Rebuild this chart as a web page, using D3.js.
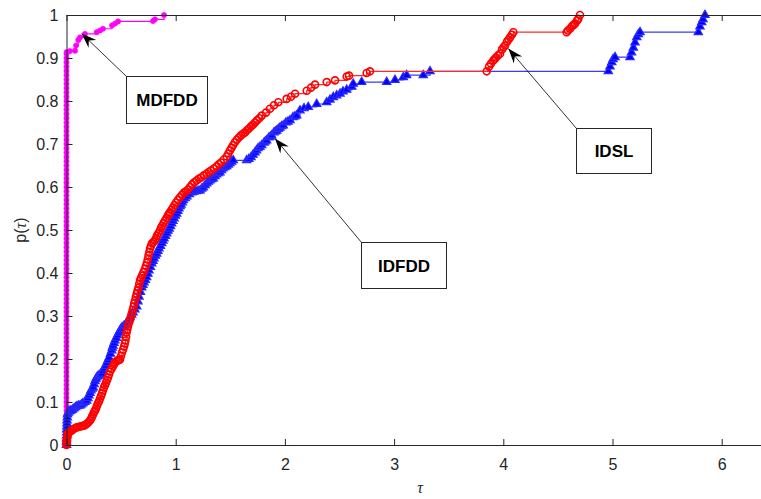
<!DOCTYPE html>
<html><head><meta charset="utf-8">
<script src="https://cdn.jsdelivr.net/npm/d3@7/dist/d3.min.js"></script>
<style>
body{margin:0;background:#fff;}
svg{display:block;font-family:"Liberation Sans",Arial,Helvetica,sans-serif;}
</style>
</head><body>
<svg id="chart" width="761" height="499"></svg>
<script>
// ---------------- data ----------------
const xTickValues = [0,1,2,3,4,5,6];
const xTickLabels = ["0","1","2","3","4","5","6"];
const yTickValues = [0,0.1,0.2,0.3,0.4,0.5,0.6,0.7,0.8,0.9,1];
const yTickLabels = ["0","0.1","0.2","0.3","0.4","0.5","0.6","0.7","0.8","0.9","1"];
const seriesNames = ["MDFDD","IDFDD","IDSL"];

const mdfddTau = [0,0,0,0,0,0,0,0,0,0,0,0,0,0,0,0,0,0,0,0,0,0,0,0,0,0,0,0,0,0,0,0,0,0,0,0,0,0,0,0,0,0,0,0,0,0,0,0,0,0,0,0,0,0,0,0,0,0,0,0,0,0,0,0,0,0,0,0,0,0,0,0,0,0,0,0,0,0,0,0,0,0,0,0,0,0,0,0,0,0,0,0,
  0.002,0.030,0.078,0.087,0.108,0.124,0.169,0.277,0.307,0.334,0.417,0.444,0.472,0.792,0.810,0.893];
const mdfddP = [0,0.01,0.02,0.03,0.04,0.05,0.06,0.07,0.08,0.09,0.10,0.11,0.12,0.13,0.14,0.15,0.16,0.17,0.18,0.19,0.20,0.21,0.22,0.23,0.24,0.25,0.26,0.27,0.28,0.29,0.30,0.31,0.32,0.33,0.34,0.35,0.36,0.37,0.38,0.39,0.40,0.41,0.42,0.43,0.44,0.45,0.46,0.47,0.48,0.49,0.50,0.51,0.52,0.53,0.54,0.55,0.56,0.57,0.58,0.59,0.60,0.61,0.62,0.63,0.64,0.65,0.66,0.67,0.68,0.69,0.70,0.71,0.72,0.73,0.74,0.75,0.76,0.77,0.78,0.79,0.80,0.81,0.82,0.83,0.84,0.85,0.86,0.87,0.88,0.89,0.90,0.91,
  0.914,0.916,0.917,0.929,0.942,0.948,0.956,0.960,0.964,0.968,0.976,0.980,0.985,0.986,0.990,1.000];

const idfddTau = [0,0,0.001,0.001,0.002,0.002,0.003,0.004,0.005,0.007,0.009,0.016,0.023,0.032,0.041,0.055,0.069,0.082,0.096,0.110,
  0.124,0.138,0.151,0.168,0.185,0.196,0.206,0.215,0.224,0.235,0.245,0.253,0.261,0.269,0.277,0.288,0.298,0.310,0.322,0.333,
  0.343,0.356,0.368,0.379,0.389,0.402,0.414,0.420,0.426,0.435,0.444,0.456,0.467,0.479,0.490,0.499,0.508,0.522,0.536,0.548,
  0.559,0.571,0.582,0.596,0.609,0.626,0.643,0.654,0.664,0.677,0.689,0.700,0.710,0.722,0.734,0.745,0.755,0.768,0.780,0.791,
  0.801,0.814,0.826,0.837,0.847,0.860,0.872,0.883,0.893,0.906,0.918,0.929,0.940,0.952,0.963,0.974,0.985,0.997,1.009,1.020,
  1.030,1.040,1.049,1.060,1.070,1.087,1.103,1.125,1.147,1.166,1.186,1.205,1.223,1.238,1.253,1.269,1.284,1.299,1.314,1.329,
  1.344,1.360,1.375,1.390,1.405,1.419,1.433,1.450,1.467,1.482,1.497,1.512,1.527,1.650,1.670,1.690,1.708,1.726,1.740,1.754,
  1.771,1.788,1.809,1.821,1.833,1.854,1.867,1.879,1.900,1.913,1.925,1.940,1.955,1.970,1.985,2.010,2.028,2.047,2.074,2.091,
  2.108,2.138,2.175,2.214,2.291,2.383,2.413,2.443,2.474,2.505,2.532,2.566,2.612,2.626,2.703,2.932,3.008,
  3.084,3.115,3.267,3.329,4.962,4.977,4.993,5.005,5.023,5.160,5.174,5.191,5.206,5.222,5.237,5.252,5.786,5.801,5.817,5.829,5.847];
const idfddP = [0,0.008,0.015,0.022,0.029,0.036,0.043,0.050,0.057,0.064,0.071,0.075,0.078,0.079,0.080,0.082,0.085,0.088,0.090,0.091,
  0.092,0.094,0.097,0.100,0.103,0.109,0.115,0.121,0.127,0.131,0.134,0.141,0.148,0.153,0.157,0.160,0.162,0.164,0.166,0.172,
  0.178,0.184,0.190,0.197,0.203,0.212,0.220,0.226,0.231,0.237,0.243,0.249,0.255,0.261,0.266,0.270,0.273,0.276,0.278,0.283,
  0.287,0.292,0.297,0.303,0.308,0.315,0.322,0.334,0.345,0.356,0.366,0.372,0.378,0.384,0.390,0.398,0.406,0.414,0.422,0.428,
  0.434,0.440,0.445,0.451,0.457,0.463,0.469,0.475,0.480,0.486,0.492,0.498,0.503,0.509,0.515,0.521,0.527,0.533,0.538,0.544,
  0.550,0.555,0.559,0.564,0.569,0.574,0.578,0.583,0.587,0.589,0.590,0.591,0.592,0.596,0.599,0.604,0.608,0.612,0.615,0.618,
  0.620,0.625,0.629,0.632,0.634,0.639,0.643,0.646,0.648,0.652,0.655,0.659,0.662,0.662,0.665,0.669,0.675,0.680,0.685,0.690,
  0.693,0.697,0.703,0.706,0.708,0.715,0.717,0.720,0.727,0.729,0.731,0.735,0.738,0.741,0.743,0.750,0.752,0.755,0.762,0.764,
  0.766,0.778,0.783,0.786,0.793,0.797,0.803,0.809,0.813,0.817,0.822,0.826,0.833,0.840,0.844,0.844,0.849,
  0.855,0.860,0.860,0.869,0.869,0.880,0.890,0.897,0.902,0.902,0.913,0.924,0.936,0.948,0.955,0.960,0.960,0.973,0.983,0.990,1.000];

const idslTau = [0,0,0.002,0.003,0.005,0.007,0.009,0.012,0.014,0.022,0.032,0.045,0.060,0.076,0.093,0.108,0.124,0.142,0.160,0.175,
  0.188,0.202,0.215,0.225,0.234,0.243,0.252,0.261,0.270,0.279,0.288,0.298,0.307,0.316,0.325,0.334,0.343,0.352,0.362,0.371,
  0.380,0.389,0.398,0.412,0.426,0.435,0.444,0.458,0.472,0.481,0.490,0.499,0.508,0.518,0.527,0.534,0.540,0.546,0.551,0.557,
  0.563,0.572,0.582,0.590,0.597,0.606,0.614,0.620,0.627,0.635,0.643,0.651,0.659,0.666,0.673,0.682,0.691,0.705,0.719,0.728,
  0.737,0.744,0.751,0.758,0.765,0.774,0.783,0.797,0.810,0.820,0.829,0.843,0.856,0.866,0.875,0.889,0.902,0.916,0.929,0.939,
  0.948,0.962,0.975,0.989,1.003,1.021,1.039,1.058,1.076,1.095,1.113,1.131,1.149,1.170,1.192,1.212,1.232,1.258,1.284,1.303,
  1.323,1.349,1.375,1.395,1.415,1.441,1.467,1.482,1.497,1.511,1.525,1.542,1.559,1.578,1.598,1.617,1.635,1.653,1.671,1.690,
  1.708,1.726,1.744,1.766,1.788,1.827,1.863,1.900,1.940,2.016,2.056,2.093,
  2.200,2.239,2.276,2.383,2.459,2.566,2.587,2.749,2.779,3.848,3.869,3.887,3.908,3.920,3.933,3.952,3.970,3.988,4.002,4.016,4.034,4.048,4.062,4.078,4.092,
  4.580,4.592,4.611,4.629,4.643,4.657,4.675,4.687,4.702];
const idslP = [0,0.004,0.008,0.012,0.015,0.019,0.022,0.025,0.027,0.029,0.031,0.033,0.036,0.039,0.041,0.042,0.043,0.044,0.045,0.047,
  0.050,0.053,0.057,0.061,0.066,0.071,0.076,0.080,0.085,0.091,0.097,0.102,0.108,0.114,0.120,0.127,0.134,0.139,0.145,0.151,
  0.157,0.164,0.171,0.177,0.183,0.188,0.192,0.195,0.197,0.198,0.199,0.207,0.215,0.222,0.229,0.236,0.243,0.252,0.262,0.269,
  0.276,0.284,0.292,0.299,0.306,0.314,0.322,0.329,0.336,0.344,0.352,0.359,0.366,0.375,0.383,0.388,0.394,0.402,0.410,0.417,
  0.424,0.432,0.441,0.449,0.457,0.463,0.469,0.472,0.476,0.481,0.487,0.493,0.499,0.505,0.510,0.516,0.522,0.528,0.534,0.538,
  0.541,0.547,0.552,0.558,0.564,0.570,0.576,0.582,0.587,0.590,0.594,0.600,0.606,0.611,0.615,0.619,0.622,0.627,0.631,0.635,
  0.638,0.643,0.648,0.653,0.657,0.664,0.671,0.678,0.685,0.691,0.697,0.704,0.710,0.715,0.720,0.724,0.727,0.732,0.736,0.741,
  0.745,0.750,0.755,0.760,0.766,0.773,0.782,0.790,0.797,0.805,0.810,0.817,
  0.824,0.831,0.838,0.844,0.848,0.857,0.859,0.865,0.869,0.869,0.880,0.887,0.894,0.897,0.901,0.906,0.910,0.920,0.925,0.929,0.938,0.943,0.948,0.954,0.960,
  0.960,0.964,0.968,0.974,0.977,0.980,0.987,0.991,1.000];

// annotation arrow tips (data coords) and labels
const annLabels = ["MDFDD","IDFDD","IDSL"];
const annTipTau = [0.138, 1.909, 4.046];
const annTipP   = [0.957, 0.713, 0.922];

// ---------------- drawing ----------------
const svg = d3.select("#chart");
const W = 761, H = 499;
const x = d3.scaleLinear().domain([0, 6.4]).range([66.5, 66.5 + 6.4*109.2]);
const y = d3.scaleLinear().domain([0, 1]).range([445, 15]);
const axisColor = "#262626";

svg.append("rect").attr("width",W).attr("height",H).attr("fill","#fff");

const zip = (a,b) => a.map((v,i)=>[v,b[i]]);
const line = d3.line().x(d=>x(d[0])).y(d=>y(d[1])).curve(d3.curveStepAfter);

const plot = svg.append("g");

// MDFDD (magenta)
const mData = zip(mdfddTau, mdfddP);
plot.append("path").datum(mData).attr("d", line).attr("fill","none")
  .attr("stroke","#ff00ff").attr("stroke-width",1.2);
plot.append("g").selectAll("circle").data(mData).join("circle")
  .attr("cx",d=>x(d[0])).attr("cy",d=>y(d[1])).attr("r",2.6)
  .attr("fill","#ff00ff").attr("stroke","#ff00ff").attr("stroke-width",0.6);

// IDFDD (blue triangles)
const bData = zip(idfddTau, idfddP);
plot.append("path").datum(bData).attr("d", line).attr("fill","none")
  .attr("stroke","#3a3aff").attr("stroke-width",1.2);
const tri = d3.symbol().type(d3.symbolTriangle).size(30);
plot.append("g").selectAll("path").data(bData).join("path")
  .attr("d", tri).attr("transform", d=>`translate(${x(d[0])},${y(d[1])})`)
  .attr("fill","#0000ff").attr("stroke","#2a2aff").attr("stroke-width",1.2);

// IDSL (red circles)
const rData = zip(idslTau, idslP);
plot.append("path").datum(rData).attr("d", line).attr("fill","none")
  .attr("stroke","#ff2a2a").attr("stroke-width",1.2);
plot.append("g").selectAll("circle").data(rData).join("circle")
  .attr("cx",d=>x(d[0])).attr("cy",d=>y(d[1])).attr("r",3.5)
  .attr("fill","none").attr("stroke","#ff0000").attr("stroke-width",1.6);

// axes
const gBottom = svg.append("g").attr("transform",`translate(0,${y(0)})`)
  .call(d3.axisBottom(x).tickValues(xTickValues).tickFormat((d,i)=>xTickLabels[i]).tickSizeInner(-6).tickSizeOuter(0).tickPadding(14));
const gTop = svg.append("g").attr("transform",`translate(0,${y(1)})`)
  .call(d3.axisTop(x).tickValues(xTickValues).tickFormat("").tickSizeInner(-6).tickSizeOuter(0));
const gLeft = svg.append("g").attr("transform",`translate(${x(0)},0)`)
  .call(d3.axisLeft(y).tickValues(yTickValues).tickFormat((d,i)=>yTickLabels[i]).tickSizeInner(-6).tickSizeOuter(0).tickPadding(8));
[gBottom, gTop, gLeft].forEach(g=>{
  g.selectAll(".domain").attr("stroke",axisColor).attr("stroke-width",1);
  g.selectAll(".tick line").attr("stroke",axisColor).attr("stroke-width",1);
  g.selectAll(".tick text").attr("fill",axisColor).attr("font-size",16)
    .attr("font-family","'Liberation Sans',Arial,sans-serif");
});

// axis labels
const yl = svg.append("text").attr("transform","translate(26,230) rotate(-90)")
  .attr("text-anchor","middle").attr("font-size",16).attr("fill",axisColor);
yl.append("tspan").text("p(");
yl.append("tspan").attr("font-style","italic").attr("font-family","'Liberation Serif','DejaVu Serif',serif").text("τ");
yl.append("tspan").text(")");
svg.append("text").attr("x",420).attr("y",493).attr("text-anchor","middle")
  .attr("font-size",16).attr("font-style","italic").attr("fill",axisColor)
  .attr("font-family","'Liberation Serif','DejaVu Serif',serif").text("τ");

// annotations (box layout in pixels)
const annBoxes = [
  {x0:126.5, y0:76.5, w:81, h:47},
  {x0:361.5, y0:242.5, w:85, h:46},
  {x0:576.5, y0:128.5, w:75, h:45}
];
const ann = svg.append("g");
annBoxes.forEach((b,i)=>{
  const tx = x(annTipTau[i]), ty = y(annTipP[i]);
  const sx = b.x0, sy = b.y0;
  ann.append("line").attr("x1",sx).attr("y1",sy).attr("x2",tx).attr("y2",ty)
    .attr("stroke","#000").attr("stroke-width",0.8);
  const ang = Math.atan2(ty-sy, tx-sx)*180/Math.PI;
  const L=15, Wd=11, N=10;
  ann.append("path").attr("d",`M0,0 L${-L},${-Wd/2} L${-N},0 L${-L},${Wd/2} Z`)
    .attr("transform",`translate(${tx},${ty}) rotate(${ang})`).attr("fill","#000");
  ann.append("rect").attr("x",b.x0).attr("y",b.y0).attr("width",b.w).attr("height",b.h)
    .attr("fill","#fff").attr("stroke","#262626").attr("stroke-width",1);
  ann.append("text").attr("x",b.x0+b.w/2).attr("y",b.y0+b.h/2+6)
    .attr("text-anchor","middle").attr("font-weight","bold").attr("font-size",17)
    .attr("fill","#000").text(annLabels[i]);
});
</script>
</body></html>
